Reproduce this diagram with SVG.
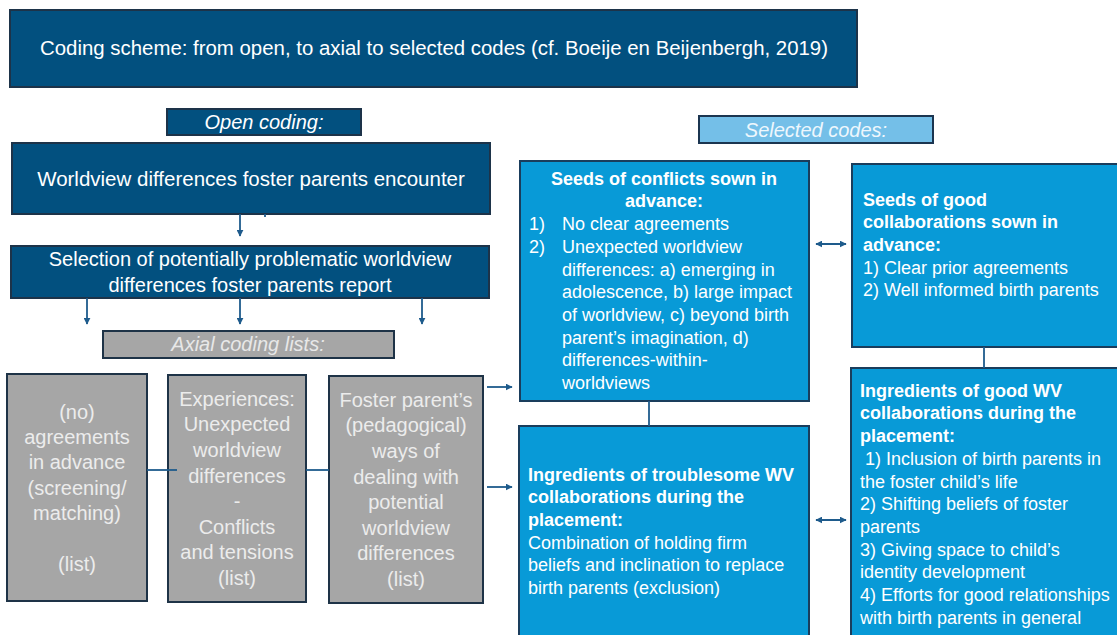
<svg xmlns="http://www.w3.org/2000/svg" width="1117" height="635" viewBox="0 0 1117 635">
  <style>
    text { font-family: "Liberation Sans", Arial, sans-serif; }
    .navy { fill: #02507f; stroke: #1d3349; stroke-width: 2; }
    .grey { fill: #a6a6a6; stroke: #1e3347; stroke-width: 2; }
    .blue { fill: #089ad7; stroke: #1a3d5c; stroke-width: 2; }
    .sel  { fill: #74bfe8; stroke: #1b3550; stroke-width: 2; }
    .w20 { fill: #ffffff; font-size: 20px; }
    .lbl { font-size: 20px; font-style: italic; text-anchor: middle; }
    .gtxt { fill: #ececec; font-size: 20px; text-anchor: middle; }
    .b18 { fill: #ffffff; font-size: 18px; font-weight: bold; }
    .r18 { fill: #ffffff; font-size: 18px; }
    .mid { text-anchor: middle; }
    .link { stroke: #1e5b8c; stroke-width: 1.8; fill: none; }
    .arrow { stroke: #1e5b8c; stroke-width: 1.8; fill: none; marker-end: url(#head); }
    .both { stroke: #1e5b8c; stroke-width: 2; fill: none; marker-start: url(#headStart); marker-end: url(#head); }
  </style>
  <defs>
    <marker id="head" viewBox="0 0 10 10" refX="9" refY="5" markerWidth="7" markerHeight="7" orient="auto" markerUnits="userSpaceOnUse">
      <path d="M0,0 L10,5 L0,10 z" fill="#1e5b8c"/>
    </marker>
    <marker id="headStart" viewBox="0 0 10 10" refX="1" refY="5" markerWidth="7" markerHeight="7" orient="auto" markerUnits="userSpaceOnUse">
      <path d="M10,0 L0,5 L10,10 z" fill="#1e5b8c"/>
    </marker>
  </defs>

  <rect width="1117" height="635" fill="#ffffff"/>

  <!-- title -->
  <g id="title">
    <rect class="navy" x="10" y="10" width="847" height="77"/>
    <text class="w20 mid" x="434" y="55" textLength="788" lengthAdjust="spacingAndGlyphs">Coding scheme: from open, to axial to selected codes (cf. Boeije en Beijenbergh, 2019)</text>
  </g>

  <!-- open coding column -->
  <g id="open-coding-label">
    <rect class="navy" x="167" y="109" width="194" height="26"/>
    <text class="lbl" x="264" y="129" fill="#ffffff">Open coding:</text>
  </g>
  <g id="worldview-differences">
    <rect class="navy" x="12" y="143" width="478" height="71"/>
    <text class="w20 mid" x="251" y="186" style="font-size:20.5px">Worldview differences foster parents encounter</text>
  </g>
  <g id="selection">
    <rect class="navy" x="11" y="246" width="478" height="52"/>
    <text class="w20 mid" x="250" y="266">Selection of potentially problematic worldview</text>
    <text class="w20 mid" x="250" y="292">differences foster parents report</text>
  </g>

  <!-- axial coding -->
  <g id="axial-label">
    <rect class="grey" x="103" y="331" width="291" height="27"/>
    <text class="lbl" x="248" y="351" fill="#e8e8e8">Axial coding lists:</text>
  </g>
  <g id="axial-agreements">
    <rect class="grey" x="7" y="374" width="140" height="227"/>
    <text class="gtxt" x="77" y="419">(no)</text>
    <text class="gtxt" x="77" y="444">agreements</text>
    <text class="gtxt" x="77" y="469">in advance</text>
    <text class="gtxt" x="77" y="495">(screening/</text>
    <text class="gtxt" x="77" y="520">matching)</text>
    <text class="gtxt" x="77" y="571">(list)</text>
  </g>
  <g id="axial-experiences">
    <rect class="grey" x="168" y="375" width="138" height="227"/>
    <text class="gtxt" x="237" y="406">Experiences:</text>
    <text class="gtxt" x="237" y="431">Unexpected</text>
    <text class="gtxt" x="237" y="457">worldview</text>
    <text class="gtxt" x="237" y="483">differences</text>
    <text class="gtxt" x="237" y="508">-</text>
    <text class="gtxt" x="237" y="534">Conflicts</text>
    <text class="gtxt" x="237" y="559">and tensions</text>
    <text class="gtxt" x="237" y="585">(list)</text>
  </g>
  <g id="axial-ways">
    <rect class="grey" x="329" y="376" width="154" height="227"/>
    <text class="gtxt" x="406" y="407">Foster parent’s</text>
    <text class="gtxt" x="406" y="432">(pedagogical)</text>
    <text class="gtxt" x="406" y="458">ways of</text>
    <text class="gtxt" x="406" y="484">dealing with</text>
    <text class="gtxt" x="406" y="509">potential</text>
    <text class="gtxt" x="406" y="535">worldview</text>
    <text class="gtxt" x="406" y="560">differences</text>
    <text class="gtxt" x="406" y="586">(list)</text>
  </g>

  <!-- selected codes -->
  <g id="selected-label">
    <rect class="sel" x="699" y="116" width="234" height="27"/>
    <text class="lbl" x="816" y="137" fill="#eef7fd">Selected codes:</text>
  </g>
  <g id="seeds-conflicts">
    <rect class="blue" x="520" y="161" width="289" height="240"/>
    <text class="b18 mid" x="664" y="184.5">Seeds of conflicts sown in</text>
    <text class="b18 mid" x="664" y="207">advance:</text>
    <text class="r18" x="529" y="230">1)</text>
    <text class="r18" x="562" y="230">No clear agreements</text>
    <text class="r18" x="529" y="253">2)</text>
    <text class="r18" x="562" y="253">Unexpected worldview</text>
    <text class="r18" x="562" y="275.5">differences: a) emerging in</text>
    <text class="r18" x="562" y="298">adolescence, b) large impact</text>
    <text class="r18" x="562" y="321">of worldview, c) beyond birth</text>
    <text class="r18" x="562" y="343.5">parent’s imagination, d)</text>
    <text class="r18" x="562" y="366">differences-within-</text>
    <text class="r18" x="562" y="389">worldviews</text>
  </g>
  <g id="seeds-good">
    <rect class="blue" x="852" y="164" width="270" height="183"/>
    <text class="b18" x="863" y="205.5">Seeds of good</text>
    <text class="b18" x="863" y="228">collaborations sown in</text>
    <text class="b18" x="863" y="251">advance:</text>
    <text class="r18" x="863" y="273.5">1) Clear prior agreements</text>
    <text class="r18" x="863" y="296">2) Well informed birth parents</text>
  </g>
  <g id="ingredients-troublesome">
    <rect class="blue" x="519" y="426" width="290" height="215"/>
    <text class="b18" x="528" y="480.5">Ingredients of troublesome WV</text>
    <text class="b18" x="528" y="503">collaborations during the</text>
    <text class="b18" x="528" y="526">placement:</text>
    <text class="r18" x="528" y="548.5">Combination of holding firm</text>
    <text class="r18" x="528" y="571">beliefs and inclination to replace</text>
    <text class="r18" x="528" y="594">birth parents (exclusion)</text>
  </g>
  <g id="ingredients-good">
    <rect class="blue" x="851" y="368" width="271" height="273"/>
    <text class="b18" x="860" y="396.5">Ingredients of good WV</text>
    <text class="b18" x="860" y="419">collaborations during the</text>
    <text class="b18" x="860" y="442">placement:</text>
    <text class="r18" x="860" y="465" xml:space="preserve"> 1) Inclusion of birth parents in</text>
    <text class="r18" x="860" y="487.5">the foster child’s life</text>
    <text class="r18" x="860" y="510">2) Shifting beliefs of foster</text>
    <text class="r18" x="860" y="533">parents</text>
    <text class="r18" x="860" y="555.5">3) Giving space to child’s</text>
    <text class="r18" x="860" y="578">identity development</text>
    <text class="r18" x="860" y="601">4) Efforts for good relationships</text>
    <text class="r18" x="860" y="623.5">with birth parents in general</text>
  </g>

  <!-- connectors -->
  <g id="connectors">
    <line class="arrow" x1="240" y1="214" x2="240" y2="236"/>
    <line class="link" x1="265" y1="214" x2="265" y2="217"/>
    <line class="arrow" x1="87" y1="298" x2="87" y2="324"/>
    <line class="arrow" x1="240" y1="298" x2="240" y2="324"/>
    <line class="arrow" x1="422" y1="298" x2="422" y2="324"/>
    <line class="link" x1="147" y1="470" x2="177" y2="470"/>
    <line class="link" x1="306" y1="470" x2="329" y2="470"/>
    <line class="arrow" x1="487" y1="387" x2="512" y2="387"/>
    <line class="arrow" x1="487" y1="487" x2="512" y2="487"/>
    <line class="link" x1="649" y1="401" x2="649" y2="426"/>
    <line class="link" x1="984" y1="347" x2="984" y2="368"/>
    <line class="both" x1="816" y1="244" x2="846" y2="244"/>
    <line class="both" x1="816" y1="520" x2="846" y2="520"/>
  </g>
</svg>
